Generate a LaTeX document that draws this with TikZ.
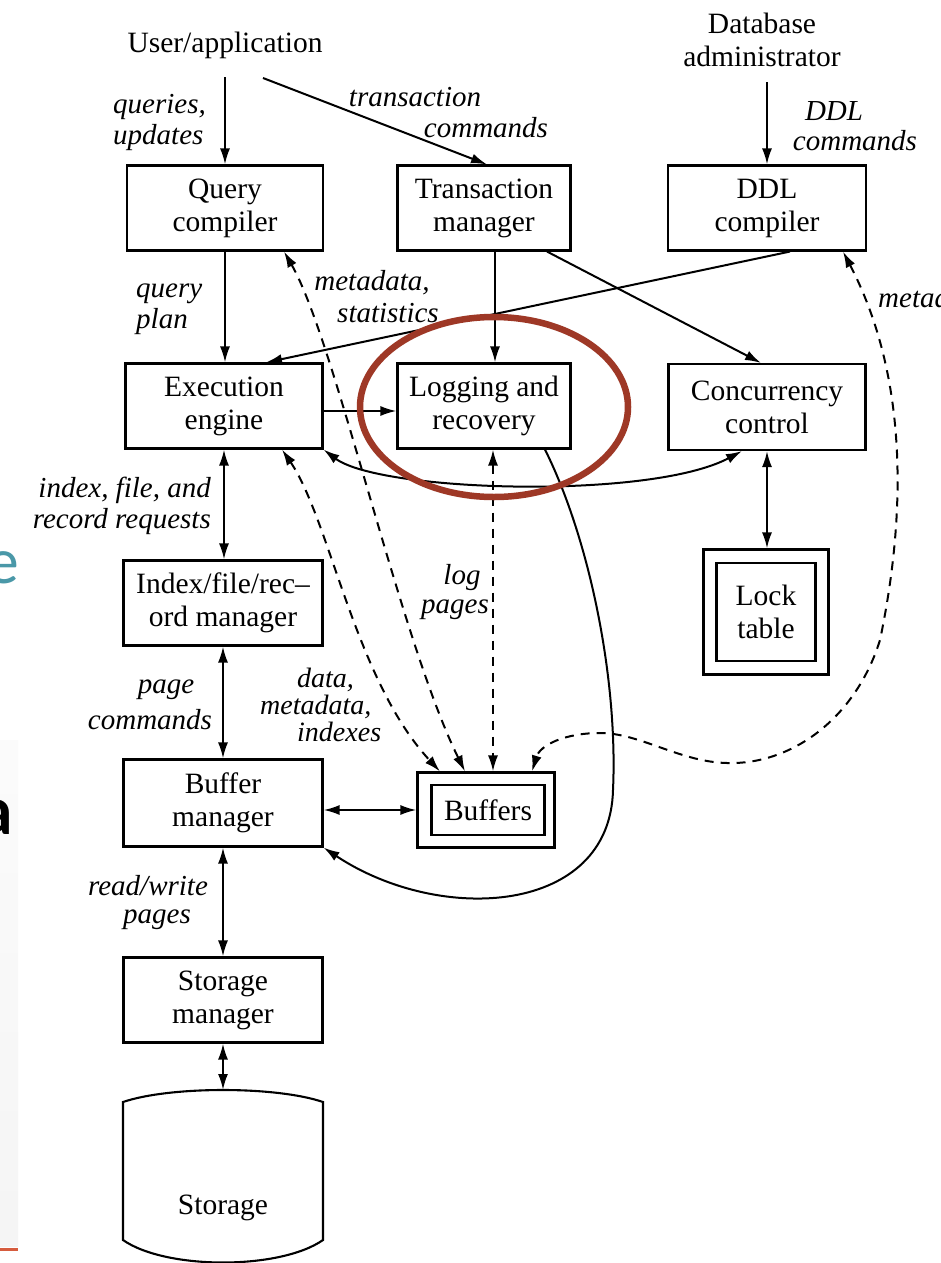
\documentclass[tikz,border=0pt]{standalone}
\usepackage{fontspec}
\setmainfont{Liberation Serif}
\newfontfamily\slidefont{Lato}
\usetikzlibrary{arrows.meta,calc}

\definecolor{circ}{RGB}{158,56,38}
\definecolor{slideteal}{RGB}{74,152,168}
\definecolor{slideorange}{RGB}{214,92,62}

\newcommand{\boxfnt}{\fontsize{29.5}{33}\selectfont}
\newcommand{\labfnt}{\fontsize{29}{31}\selectfont\itshape}

\begin{document}
\begin{tikzpicture}[x=1pt,y=-1pt,
  box/.style={draw, line width=2.1pt, align=center, inner sep=0pt, font=\boxfnt, minimum height=85pt},
  plain/.style={align=center, inner sep=0pt, font=\boxfnt},
  lab/.style={inner sep=0pt, font=\labfnt},
  arr/.style={-{Latex[length=16pt,width=10pt]}, line width=2pt},
  darr/.style={{Latex[length=16pt,width=10pt]}-{Latex[length=16pt,width=10pt]}, line width=2pt},
  dsh/.style={dash pattern=on 9pt off 7pt},
]
% page and the strip of slide at the left edge
\useasboundingbox (0,0) rectangle (941,1263);
\fill[white] (0,0) rectangle (941,1263);
\shade[top color=gray!3, bottom color=gray!8] (0,740) rectangle (18,1246);
\fill[slideorange] (0,1248) rectangle (18,1251);
\node[anchor=east, inner sep=0pt, text=slideteal, font=\slidefont\fontsize{62}{62}\selectfont] at (19,568) {e};
\node[anchor=east, inner sep=0pt, font=\slidefont\bfseries\fontsize{66}{66}\selectfont] at (13,818) {a};

% actors
\node[plain] (ua) at (225,45) {User/application};
\node[plain] (dba) at (762,40) {Database\\administrator};
\coordinate (uaout) at (225,77);
\coordinate (uaside) at (263,78);
\coordinate (dbaout) at (767,82);

% components
\node[box, minimum width=196pt] (qc) at (225,208) {Query\\compiler};
\node[box, minimum width=173pt] (tm) at (484,208) {Transaction\\manager};
\node[box, minimum width=198pt] (ddl) at (767,208) {DDL\\compiler};
\node[box, minimum width=197pt] (ee) at (224,406) {Execution\\engine};
\node[box, minimum width=173pt] (lr) at (484,406) {Logging and\\recovery};
\node[box, minimum width=197pt, minimum height=86pt] (cc) at (767,407) {Concurrency\\control};
\node[box, minimum width=199pt] (im) at (223,603) {Index/file/rec--\\ord manager};
\node[box, minimum width=199pt, minimum height=87pt] (bm) at (223,803) {Buffer\\manager};
\node[box, minimum width=199pt] (sm) at (223,1000) {Storage\\manager};
\node[box, minimum width=125pt, minimum height=125pt] (lt) at (766,612) {};
\node[box, minimum width=99pt, minimum height=98pt] (lti) at (766,612) {Lock\\table};
\node[box, minimum width=137pt, minimum height=75pt] (bf) at (486,810) {};
\node[box, minimum width=113pt, minimum height=50pt] (bfi) at (488,810) {Buffers};

% storage drum
\draw[line width=2.1pt] (123,1240) -- (123,1102) .. controls (170,1086) and (276,1086) .. (323,1102)
  -- (323,1240) .. controls (280,1270) and (166,1270) .. cycle;
\node[plain] (st) at (223,1208) {Storage};
\coordinate (sttop) at (223,1090);

% labels
\node[lab, align=left, anchor=west] at (113,122) {queries,\\updates};
\node[lab] at (415,97) {transaction};
\node[lab] at (486,128) {commands};
\node[lab] at (834,111) {DDL};
\node[lab] at (855,141) {commands};
\node[lab, align=left, anchor=west] at (136,309) {query\\plan};
\node[lab] at (372,283) {metadata,};
\node[lab] at (388,313) {statistics};
\node[lab, anchor=west] at (878,298) {metadata};
\node[lab, align=right, anchor=east] at (211,506) {index, file, and\\record requests};
\node[lab] at (462,578) {log};
\node[lab] at (455,610) {pages};
\node[lab] at (166,690) {page};
\node[lab] at (150,720) {commands};
\node[lab, align=left, anchor=west, font=\fontsize{28}{27}\selectfont\itshape] at (260,705)
  {\hspace*{37pt}data,\\metadata,\\\hspace*{37pt}indexes};
\node[lab] at (148,886) {read/write};
\node[lab] at (157,920) {pages};

% control flow
\draw[arr] (uaout) -- (qc.north);
\draw[arr] (uaside) -- ([xshift=3pt]tm.north);
\draw[arr] (dbaout) -- (dbaout |- ddl.north);
\draw[arr] (qc.south) -- (qc.south |- ee.north);
\draw[arr] ([xshift=23pt]ddl.south) -- ([xshift=42pt]ee.north);
\draw[arr] ([xshift=11pt]tm.south) -- ([xshift=11pt]lr.north);
\draw[arr] ([xshift=63pt]tm.south) -- ([xshift=-6pt]cc.north);
\draw[arr] ([yshift=-5pt]ee.east) -- ([yshift=-5pt]lr.west);
\draw[darr] (ee.south east) .. controls (380,492) and (650,500) .. ([xshift=-25pt]cc.south);
\draw[darr] (ee.south) -- (ee.south |- im.north);
\draw[darr] (im.south) -- (im.south |- bm.north);
\draw[darr] (bm.south) -- (bm.south |- sm.north);
\draw[darr] (sm.south) -- (sttop);
\draw[darr] (bm.east |- bf.west) -- (bf.west);
\draw[darr] (cc.south) -- (cc.south |- lt.north);
\draw[arr] ([xshift=61pt]lr.south) .. controls (590,540) and (618,680) .. (613,790)
  .. controls (610,915) and (440,925) .. (bm.south east);

% data flow through the buffers
\draw[darr, dsh] ([xshift=9pt]lr.south) -- ([xshift=7pt]bf.north);
\draw[darr, dsh] ([xshift=59pt]qc.south) .. controls (335,340) and (400,640) .. ([xshift=-21pt]bf.north);
\draw[darr, dsh] ([xshift=58pt]ee.south) .. controls (330,520) and (355,680) .. ([xshift=-46pt]bf.north);
\draw[darr, dsh] ([xshift=76pt]ddl.south) .. controls (910,380) and (905,520) .. (880,640)
  .. controls (855,720) and (790,765) .. (727,763)
  .. controls (680,762) and (640,733) .. (600,733)
  .. controls (565,733) and (540,745) .. ([xshift=46pt]bf.north);

% highlight ring
\draw[circ, line width=6.5pt] (494,407) ellipse [x radius=134pt, y radius=90pt];
\end{tikzpicture}
\end{document}
